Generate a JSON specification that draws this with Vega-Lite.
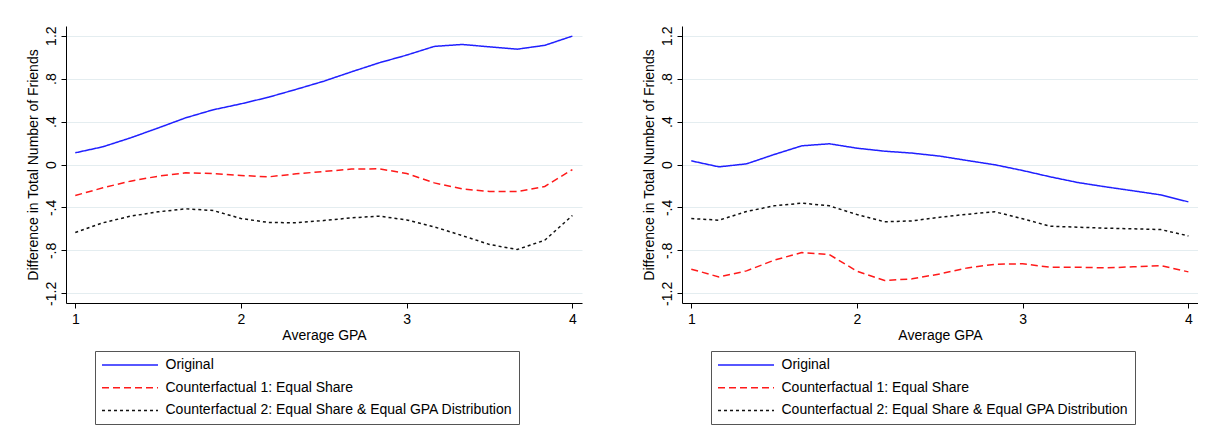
{
  "$schema": "https://vega.github.io/schema/vega-lite/v6.json",
  "background": "white",
  "padding": {"left": 26, "top": 25, "right": 0, "bottom": 0},
  "autosize": {"type": "pad"},
  "config": {
    "font": "Liberation Sans",
    "view": {"stroke": null},
    "axis": {
      "domainColor": "#000000",
      "tickColor": "#000000",
      "tickSize": 5,
      "labelFontSize": 14,
      "labelColor": "#000000",
      "titleFontSize": 14,
      "titleFontWeight": "normal",
      "titleColor": "#000000",
      "gridColor": "#e4edf0",
      "gridWidth": 1
    },
    "legend": {
      "orient": "none",
      "legendX": 29,
      "legendY": 325,
      "direction": "vertical",
      "strokeColor": "#555555",
      "padding": 6,
      "labelFontSize": 14,
      "labelColor": "#000000",
      "labelLimit": 0,
      "symbolType": "M-4,0H4",
      "symbolSize": 196,
      "symbolOffset": 21,
      "symbolStrokeWidth": 1.5,
      "rowPadding": 7.7,
      "labelOffset": 27.5
    }
  },
  "datasets": {
    "left": [
      {"gpa": 1, "series": "Original", "diff": 0.109},
      {"gpa": 1.1667, "series": "Original", "diff": 0.165},
      {"gpa": 1.3333, "series": "Original", "diff": 0.248},
      {"gpa": 1.5, "series": "Original", "diff": 0.34},
      {"gpa": 1.6667, "series": "Original", "diff": 0.435},
      {"gpa": 1.8333, "series": "Original", "diff": 0.51},
      {"gpa": 2, "series": "Original", "diff": 0.565},
      {"gpa": 2.1667, "series": "Original", "diff": 0.627},
      {"gpa": 2.3333, "series": "Original", "diff": 0.7},
      {"gpa": 2.5, "series": "Original", "diff": 0.776},
      {"gpa": 2.6667, "series": "Original", "diff": 0.863},
      {"gpa": 2.8333, "series": "Original", "diff": 0.947},
      {"gpa": 3, "series": "Original", "diff": 1.019},
      {"gpa": 3.1667, "series": "Original", "diff": 1.1},
      {"gpa": 3.3333, "series": "Original", "diff": 1.118},
      {"gpa": 3.5, "series": "Original", "diff": 1.096},
      {"gpa": 3.6667, "series": "Original", "diff": 1.074},
      {"gpa": 3.8333, "series": "Original", "diff": 1.11},
      {"gpa": 4, "series": "Original", "diff": 1.196},
      {"gpa": 1, "series": "Counterfactual 1: Equal Share", "diff": -0.289},
      {"gpa": 1.1667, "series": "Counterfactual 1: Equal Share", "diff": -0.217},
      {"gpa": 1.3333, "series": "Counterfactual 1: Equal Share", "diff": -0.155},
      {"gpa": 1.5, "series": "Counterfactual 1: Equal Share", "diff": -0.109},
      {"gpa": 1.6667, "series": "Counterfactual 1: Equal Share", "diff": -0.078},
      {"gpa": 1.8333, "series": "Counterfactual 1: Equal Share", "diff": -0.084},
      {"gpa": 2, "series": "Counterfactual 1: Equal Share", "diff": -0.102},
      {"gpa": 2.1667, "series": "Counterfactual 1: Equal Share", "diff": -0.115},
      {"gpa": 2.3333, "series": "Counterfactual 1: Equal Share", "diff": -0.087},
      {"gpa": 2.5, "series": "Counterfactual 1: Equal Share", "diff": -0.065},
      {"gpa": 2.6667, "series": "Counterfactual 1: Equal Share", "diff": -0.043},
      {"gpa": 2.8333, "series": "Counterfactual 1: Equal Share", "diff": -0.04},
      {"gpa": 3, "series": "Counterfactual 1: Equal Share", "diff": -0.084},
      {"gpa": 3.1667, "series": "Counterfactual 1: Equal Share", "diff": -0.171},
      {"gpa": 3.3333, "series": "Counterfactual 1: Equal Share", "diff": -0.227},
      {"gpa": 3.5, "series": "Counterfactual 1: Equal Share", "diff": -0.252},
      {"gpa": 3.6667, "series": "Counterfactual 1: Equal Share", "diff": -0.252},
      {"gpa": 3.8333, "series": "Counterfactual 1: Equal Share", "diff": -0.205},
      {"gpa": 4, "series": "Counterfactual 1: Equal Share", "diff": -0.047},
      {"gpa": 1, "series": "Counterfactual 2: Equal Share & Equal GPA Distribution", "diff": -0.634},
      {"gpa": 1.1667, "series": "Counterfactual 2: Equal Share & Equal GPA Distribution", "diff": -0.543},
      {"gpa": 1.3333, "series": "Counterfactual 2: Equal Share & Equal GPA Distribution", "diff": -0.481},
      {"gpa": 1.5, "series": "Counterfactual 2: Equal Share & Equal GPA Distribution", "diff": -0.441},
      {"gpa": 1.6667, "series": "Counterfactual 2: Equal Share & Equal GPA Distribution", "diff": -0.413},
      {"gpa": 1.8333, "series": "Counterfactual 2: Equal Share & Equal GPA Distribution", "diff": -0.429},
      {"gpa": 2, "series": "Counterfactual 2: Equal Share & Equal GPA Distribution", "diff": -0.503},
      {"gpa": 2.1667, "series": "Counterfactual 2: Equal Share & Equal GPA Distribution", "diff": -0.54},
      {"gpa": 2.3333, "series": "Counterfactual 2: Equal Share & Equal GPA Distribution", "diff": -0.543},
      {"gpa": 2.5, "series": "Counterfactual 2: Equal Share & Equal GPA Distribution", "diff": -0.522},
      {"gpa": 2.6667, "series": "Counterfactual 2: Equal Share & Equal GPA Distribution", "diff": -0.497},
      {"gpa": 2.8333, "series": "Counterfactual 2: Equal Share & Equal GPA Distribution", "diff": -0.481},
      {"gpa": 3, "series": "Counterfactual 2: Equal Share & Equal GPA Distribution", "diff": -0.516},
      {"gpa": 3.1667, "series": "Counterfactual 2: Equal Share & Equal GPA Distribution", "diff": -0.581},
      {"gpa": 3.3333, "series": "Counterfactual 2: Equal Share & Equal GPA Distribution", "diff": -0.661},
      {"gpa": 3.5, "series": "Counterfactual 2: Equal Share & Equal GPA Distribution", "diff": -0.745},
      {"gpa": 3.6667, "series": "Counterfactual 2: Equal Share & Equal GPA Distribution", "diff": -0.792},
      {"gpa": 3.8333, "series": "Counterfactual 2: Equal Share & Equal GPA Distribution", "diff": -0.705},
      {"gpa": 4, "series": "Counterfactual 2: Equal Share & Equal GPA Distribution", "diff": -0.475}
    ],
    "right": [
      {"gpa": 1, "series": "Original", "diff": 0.034},
      {"gpa": 1.1667, "series": "Original", "diff": -0.022},
      {"gpa": 1.3333, "series": "Original", "diff": 0.006},
      {"gpa": 1.5, "series": "Original", "diff": 0.093},
      {"gpa": 1.6667, "series": "Original", "diff": 0.174},
      {"gpa": 1.8333, "series": "Original", "diff": 0.193},
      {"gpa": 2, "series": "Original", "diff": 0.152},
      {"gpa": 2.1667, "series": "Original", "diff": 0.124},
      {"gpa": 2.3333, "series": "Original", "diff": 0.106},
      {"gpa": 2.5, "series": "Original", "diff": 0.078},
      {"gpa": 2.6667, "series": "Original", "diff": 0.037},
      {"gpa": 2.8333, "series": "Original", "diff": -0.003},
      {"gpa": 3, "series": "Original", "diff": -0.056},
      {"gpa": 3.1667, "series": "Original", "diff": -0.115},
      {"gpa": 3.3333, "series": "Original", "diff": -0.168},
      {"gpa": 3.5, "series": "Original", "diff": -0.208},
      {"gpa": 3.6667, "series": "Original", "diff": -0.245},
      {"gpa": 3.8333, "series": "Original", "diff": -0.283},
      {"gpa": 4, "series": "Original", "diff": -0.348},
      {"gpa": 1, "series": "Counterfactual 1: Equal Share", "diff": -0.975},
      {"gpa": 1.1667, "series": "Counterfactual 1: Equal Share", "diff": -1.047},
      {"gpa": 1.3333, "series": "Counterfactual 1: Equal Share", "diff": -0.991},
      {"gpa": 1.5, "series": "Counterfactual 1: Equal Share", "diff": -0.891},
      {"gpa": 1.6667, "series": "Counterfactual 1: Equal Share", "diff": -0.82},
      {"gpa": 1.8333, "series": "Counterfactual 1: Equal Share", "diff": -0.839},
      {"gpa": 2, "series": "Counterfactual 1: Equal Share", "diff": -0.994},
      {"gpa": 2.1667, "series": "Counterfactual 1: Equal Share", "diff": -1.081},
      {"gpa": 2.3333, "series": "Counterfactual 1: Equal Share", "diff": -1.065},
      {"gpa": 2.5, "series": "Counterfactual 1: Equal Share", "diff": -1.019},
      {"gpa": 2.6667, "series": "Counterfactual 1: Equal Share", "diff": -0.963},
      {"gpa": 2.8333, "series": "Counterfactual 1: Equal Share", "diff": -0.929},
      {"gpa": 3, "series": "Counterfactual 1: Equal Share", "diff": -0.925},
      {"gpa": 3.1667, "series": "Counterfactual 1: Equal Share", "diff": -0.957},
      {"gpa": 3.3333, "series": "Counterfactual 1: Equal Share", "diff": -0.957},
      {"gpa": 3.5, "series": "Counterfactual 1: Equal Share", "diff": -0.963},
      {"gpa": 3.6667, "series": "Counterfactual 1: Equal Share", "diff": -0.953},
      {"gpa": 3.8333, "series": "Counterfactual 1: Equal Share", "diff": -0.941},
      {"gpa": 4, "series": "Counterfactual 1: Equal Share", "diff": -1.0},
      {"gpa": 1, "series": "Counterfactual 2: Equal Share & Equal GPA Distribution", "diff": -0.503},
      {"gpa": 1.1667, "series": "Counterfactual 2: Equal Share & Equal GPA Distribution", "diff": -0.519},
      {"gpa": 1.3333, "series": "Counterfactual 2: Equal Share & Equal GPA Distribution", "diff": -0.438},
      {"gpa": 1.5, "series": "Counterfactual 2: Equal Share & Equal GPA Distribution", "diff": -0.385},
      {"gpa": 1.6667, "series": "Counterfactual 2: Equal Share & Equal GPA Distribution", "diff": -0.36},
      {"gpa": 1.8333, "series": "Counterfactual 2: Equal Share & Equal GPA Distribution", "diff": -0.385},
      {"gpa": 2, "series": "Counterfactual 2: Equal Share & Equal GPA Distribution", "diff": -0.466},
      {"gpa": 2.1667, "series": "Counterfactual 2: Equal Share & Equal GPA Distribution", "diff": -0.534},
      {"gpa": 2.3333, "series": "Counterfactual 2: Equal Share & Equal GPA Distribution", "diff": -0.525},
      {"gpa": 2.5, "series": "Counterfactual 2: Equal Share & Equal GPA Distribution", "diff": -0.491},
      {"gpa": 2.6667, "series": "Counterfactual 2: Equal Share & Equal GPA Distribution", "diff": -0.463},
      {"gpa": 2.8333, "series": "Counterfactual 2: Equal Share & Equal GPA Distribution", "diff": -0.441},
      {"gpa": 3, "series": "Counterfactual 2: Equal Share & Equal GPA Distribution", "diff": -0.506},
      {"gpa": 3.1667, "series": "Counterfactual 2: Equal Share & Equal GPA Distribution", "diff": -0.575},
      {"gpa": 3.3333, "series": "Counterfactual 2: Equal Share & Equal GPA Distribution", "diff": -0.584},
      {"gpa": 3.5, "series": "Counterfactual 2: Equal Share & Equal GPA Distribution", "diff": -0.593},
      {"gpa": 3.6667, "series": "Counterfactual 2: Equal Share & Equal GPA Distribution", "diff": -0.599},
      {"gpa": 3.8333, "series": "Counterfactual 2: Equal Share & Equal GPA Distribution", "diff": -0.606},
      {"gpa": 4, "series": "Counterfactual 2: Equal Share & Equal GPA Distribution", "diff": -0.665}
    ]
  },
  "spacing": 60,
  "hconcat": [
    {
      "width": 516,
      "height": 277,
      "data": {"name": "left"},
      "mark": {"type": "line", "strokeWidth": 1.5},
      "encoding": {
        "x": {
          "field": "gpa",
          "type": "quantitative",
          "scale": {"domain": [0.944, 4.058], "nice": false, "zero": false},
          "axis": {"values": [1, 2, 3, 4], "title": "Average GPA", "grid": false, "labelPadding": 4, "titlePadding": 2}
        },
        "y": {
          "field": "diff",
          "type": "quantitative",
          "scale": {"domain": [-1.29, 1.29], "nice": false, "zero": false},
          "axis": {
            "values": [-1.2, -0.8, -0.4, 0, 0.4, 0.8, 1.2],
            "title": "Difference in Total Number of Friends",
            "labelExpr": "replace(replace(format(datum.value, '.1~f'), '0.', '.'), '\u2212', '-')",
            "labelAngle": 270,
            "labelAlign": "center",
            "labelBaseline": "bottom",
            "labelPadding": 3,
            "titlePadding": 4
          }
        },
        "color": {
          "field": "series",
          "type": "nominal",
          "scale": {
            "domain": ["Original", "Counterfactual 1: Equal Share", "Counterfactual 2: Equal Share & Equal GPA Distribution"],
            "range": ["#2020ff", "#ff1a1a", "#111111"]
          },
          "legend": {"title": null}
        },
        "strokeDash": {
          "field": "series",
          "type": "nominal",
          "scale": {
            "domain": ["Original", "Counterfactual 1: Equal Share", "Counterfactual 2: Equal Share & Equal GPA Distribution"],
            "range": [[1, 0], [7, 4], [3, 3]]
          },
          "legend": {"title": null}
        }
      }
    },
    {
      "width": 516,
      "height": 277,
      "data": {"name": "right"},
      "mark": {"type": "line", "strokeWidth": 1.5},
      "encoding": {
        "x": {
          "field": "gpa",
          "type": "quantitative",
          "scale": {"domain": [0.944, 4.058], "nice": false, "zero": false},
          "axis": {"values": [1, 2, 3, 4], "title": "Average GPA", "grid": false, "labelPadding": 4, "titlePadding": 2}
        },
        "y": {
          "field": "diff",
          "type": "quantitative",
          "scale": {"domain": [-1.29, 1.29], "nice": false, "zero": false},
          "axis": {
            "values": [-1.2, -0.8, -0.4, 0, 0.4, 0.8, 1.2],
            "title": "Difference in Total Number of Friends",
            "labelExpr": "replace(replace(format(datum.value, '.1~f'), '0.', '.'), '\u2212', '-')",
            "labelAngle": 270,
            "labelAlign": "center",
            "labelBaseline": "bottom",
            "labelPadding": 3,
            "titlePadding": 4
          }
        },
        "color": {
          "field": "series",
          "type": "nominal",
          "scale": {
            "domain": ["Original", "Counterfactual 1: Equal Share", "Counterfactual 2: Equal Share & Equal GPA Distribution"],
            "range": ["#2020ff", "#ff1a1a", "#111111"]
          },
          "legend": {"title": null}
        },
        "strokeDash": {
          "field": "series",
          "type": "nominal",
          "scale": {
            "domain": ["Original", "Counterfactual 1: Equal Share", "Counterfactual 2: Equal Share & Equal GPA Distribution"],
            "range": [[1, 0], [7, 4], [3, 3]]
          },
          "legend": {"title": null}
        }
      }
    }
  ],
  "resolve": {
    "scale": {"color": "independent", "strokeDash": "independent"},
    "legend": {"color": "independent", "strokeDash": "independent"}
  }
}
